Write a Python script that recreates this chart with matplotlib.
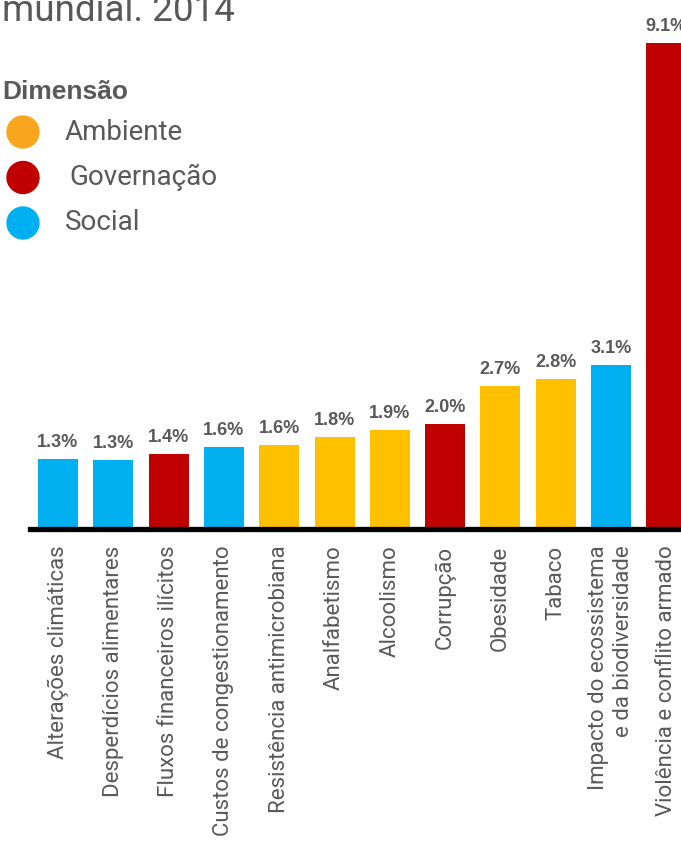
import matplotlib.pyplot as plt
from matplotlib.patches import Circle

# bar data
categories = ['Alterações climáticas', 'Desperdícios alimentares', 'Fluxos financeiros ilícitos',
              'Custos de congestionamento', 'Resistência antimicrobiana', 'Analfabetismo',
              'Alcoolismo', 'Corrupção', 'Obesidade', 'Tabaco',
              'Impacto do ecossistema\ne da biodiversidade', 'Violência e conflito armado']
values = [1.32, 1.30, 1.40, 1.54, 1.57, 1.72, 1.85, 1.96, 2.67, 2.81, 3.07, 9.1]
value_labels = ['1.3%', '1.3%', '1.4%', '1.6%', '1.6%', '1.8%', '1.9%', '2.0%',
                '2.7%', '2.8%', '3.1%', '9.1%']
dimension = ['Social', 'Social', 'Governação', 'Social', 'Ambiente', 'Ambiente',
             'Ambiente', 'Governação', 'Ambiente', 'Ambiente', 'Social', 'Governação']

bar_colors = {'Ambiente': '#FFC000', 'Governação': '#C00000', 'Social': '#00B0F0'}
legend_colors = {'Ambiente': '#F8A61E', 'Governação': '#C00000', 'Social': '#00B0F0'}
legend_items = ['Ambiente', 'Governação', 'Social']

GRAY = '#595959'
LIGHT = 'Roboto'
W, H = 681, 843

fig = plt.figure(figsize=(W / 100, H / 100), dpi=100)

# axes extends a bit beyond the right edge (chart is cropped there)
base_px = 529
ax = fig.add_axes([30 / W, (H - base_px) / H, 670 / W, base_px / H])
px_per_bar = 55.3
ax.set_xlim((30 - 58) / px_per_bar, (700 - 58) / px_per_bar)
ax.set_ylim(0, base_px / 53.4)

x = list(range(len(values)))
ax.bar(x, values, width=40 / px_per_bar, color=[bar_colors[d] for d in dimension], zorder=2)
ax.axhline(0, color='black', lw=3.8, zorder=3, clip_on=False)

for xi, v, lab in zip(x, values, value_labels):
    ax.annotate(lab, (xi, v), xytext=(0, 8), textcoords='offset pixels',
                ha='center', va='bottom', fontsize=13, fontweight='bold',
                color=GRAY, family='Liberation Sans', annotation_clip=False)

ax.set_xticks(x)
ax.set_xticklabels(categories, rotation=90, fontsize=16, color=GRAY,
                   family=LIGHT, fontweight='normal')
for t in ax.get_xticklabels():
    t.set_multialignment('right')
ax.tick_params(axis='x', length=0, pad=12)
ax.set_yticks([])
for s in ax.spines.values():
    s.set_visible(False)
ax.patch.set_alpha(0)

# title fragment (top is cropped)
fig.text(2 / W, 1 - 21 / H, 'mundial. 2014', fontsize=26.5, color=GRAY,
         family=LIGHT, fontweight='normal', va='baseline', ha='left')

# legend drawn in pixel coordinates
lg = fig.add_axes([0, 0, 1, 1])
lg.set_xlim(0, W)
lg.set_ylim(H, 0)
lg.axis('off')
lg.text(2, 99, 'Dimensão', fontsize=19, fontweight='bold', color=GRAY,
        family='Liberation Sans', va='baseline')
for i, name in enumerate(legend_items):
    cy = 132 + 45.5 * i
    lg.add_patch(Circle((23, cy), 16, color=legend_colors[name]))
    lg.text(65 if name != 'Governação' else 69, cy, name, fontsize=20, color=GRAY,
            family=LIGHT, fontweight='normal', va='center', ha='left')

fig.savefig('out.png', dpi=100)
